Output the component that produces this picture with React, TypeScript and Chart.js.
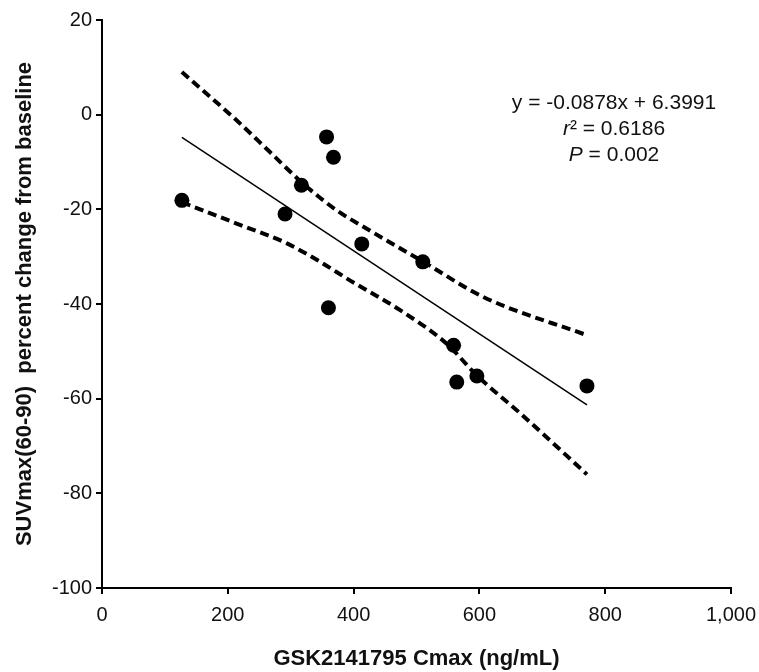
import React, { useEffect, useRef } from "react";
import { Chart, registerables } from "chart.js";

Chart.register(...registerables);

// Observed data points (GSK2141795 Cmax vs SUVmax percent change)
const pointX = [127, 291, 317, 357, 368, 413, 360, 510, 559, 564, 596, 771];
const pointY = [-18.1, -21.0, -14.9, -4.7, -9.0, -27.3, -40.8, -31.1, -48.7, -56.5, -55.2, -57.3];

// Regression line end points
const fitX = [127, 771];
const fitY = [-4.8, -61.3];

// Upper / lower confidence band
const upperX = [127, 214, 267, 320, 373, 421, 511, 606, 771];
const upperY = [9.0, -1.2, -7.9, -14.6, -20.2, -24.1, -31.1, -38.5, -46.6];
const lowerX = [127, 214, 294, 347, 394, 474, 548, 596, 665, 771];
const lowerY = [-18.5, -23.0, -27.2, -31.1, -35.0, -41.3, -48.4, -55.1, -63.1, -76.0];

// Axis ticks
const xTicks = [0, 200, 400, 600, 800, 1000];
const xTickLabels = ["0", "200", "400", "600", "800", "1,000"];
const yTicks = [-100, -80, -60, -40, -20, 0, 20];
const yTickLabels = ["-100", "-80", "-60", "-40", "-20", "0", "20"];

const xTitle = "GSK2141795 Cmax (ng/mL)";
const yTitle = "SUVmax(60-90)  percent change from baseline";

// Equation annotation: segments [text, italic]
const eqLines: [string, boolean][][] = [
  [["y = -0.0878x + 6.3991", false]],
  [["r", true], ["\u00B2 = 0.6186", false]],
  [["P", true], [" = 0.002", false]],
];
const eqAnchorX = 814;
const eqAnchorY = 2.4;

const FONT = "'Liberation Sans', Arial, Helvetica, sans-serif";

const zip = (xs: number[], ys: number[]) => xs.map((x, i) => ({ x, y: ys[i] }));

const eqPlugin = {
  id: "eqPlugin",
  afterDatasetsDraw(chart: any) {
    const { ctx, scales } = chart;
    const cx = scales.x.getPixelForValue(eqAnchorX);
    const cy0 = scales.y.getPixelForValue(eqAnchorY);
    const size = 21;
    const lineGap = 26;
    ctx.save();
    ctx.fillStyle = "#111";
    ctx.textBaseline = "middle";
    ctx.textAlign = "left";
    eqLines.forEach((segs, li) => {
      let total = 0;
      const widths = segs.map(([t, it]) => {
        ctx.font = `${it ? "italic " : ""}${size}px ${FONT}`;
        const w = ctx.measureText(t).width;
        total += w;
        return w;
      });
      let x = cx - total / 2;
      const y = cy0 + li * lineGap;
      segs.forEach(([t, it], si) => {
        ctx.font = `${it ? "italic " : ""}${size}px ${FONT}`;
        ctx.fillText(t, x, y);
        x += widths[si];
      });
    });
    ctx.restore();
  },
};

export default function App() {
  const ref = useRef<HTMLCanvasElement | null>(null);

  useEffect(() => {
    if (!ref.current) return;
    const chart = new Chart(ref.current, {
      type: "scatter",
      data: {
        datasets: [
          {
            label: "upper",
            data: zip(upperX, upperY),
            showLine: true,
            borderColor: "#000",
            borderWidth: 4,
            borderDash: [9, 5],
            pointRadius: 0,
            cubicInterpolationMode: "monotone",
            fill: false,
          },
          {
            label: "lower",
            data: zip(lowerX, lowerY),
            showLine: true,
            borderColor: "#000",
            borderWidth: 4,
            borderDash: [9, 5],
            pointRadius: 0,
            cubicInterpolationMode: "monotone",
            fill: false,
          },
          {
            label: "fit",
            data: zip(fitX, fitY),
            showLine: true,
            borderColor: "#000",
            borderWidth: 1.5,
            pointRadius: 0,
            fill: false,
          },
          {
            label: "points",
            data: zip(pointX, pointY),
            showLine: false,
            pointRadius: 7.5,
            pointBackgroundColor: "#000",
            pointBorderColor: "#000",
            pointBorderWidth: 0,
          },
        ],
      },
      options: {
        animation: false,
        responsive: false,
        events: [],
        layout: { padding: { top: 20, right: 28, left: 0, bottom: 0 } },
        plugins: {
          legend: { display: false },
          tooltip: { enabled: false },
        },
        scales: {
          x: {
            type: "linear",
            min: 0,
            max: 1000,
            afterFit: (s: any) => {
              s.height = 84;
              s.paddingLeft = 0;
              s.paddingRight = 0;
            },
            afterBuildTicks: (s: any) => {
              s.ticks = xTicks.map((v) => ({ value: v }));
            },
            ticks: {
              callback: (_v: any, i: number) => xTickLabels[i],
              color: "#111",
              font: { family: FONT, size: 20 },
              padding: 9,
              maxRotation: 0,
              autoSkip: false,
            },
            grid: {
              display: true,
              drawOnChartArea: false,
              drawTicks: true,
              tickLength: 6,
              color: "#000",
              lineWidth: 2,
            },
            border: { display: true, color: "#000", width: 2 },
            title: {
              display: true,
              text: xTitle,
              color: "#111",
              font: { family: FONT, size: 22, weight: "bold" },
              padding: { top: 0, bottom: 0 },
            },
          },
          y: {
            type: "linear",
            min: -100,
            max: 20,
            afterFit: (s: any) => {
              s.width = 102;
              s.paddingTop = 0;
              s.paddingBottom = 0;
            },
            afterBuildTicks: (s: any) => {
              s.ticks = yTicks.map((v) => ({ value: v }));
            },
            ticks: {
              callback: (_v: any, i: number) => yTickLabels[i],
              color: "#111",
              font: { family: FONT, size: 20 },
              padding: 4,
              autoSkip: false,
            },
            grid: {
              display: true,
              drawOnChartArea: false,
              drawTicks: true,
              tickLength: 6,
              color: "#000",
              lineWidth: 2,
            },
            border: { display: true, color: "#000", width: 2 },
            title: {
              display: true,
              text: yTitle,
              color: "#111",
              font: { family: FONT, size: 22, weight: "bold" },
              padding: { top: 12, bottom: 0 },
            },
          },
        },
      },
      plugins: [eqPlugin],
    } as any);
    return () => chart.destroy();
  }, []);

  return (
    <div style={{ position: "absolute", left: 0, top: 0, width: 759, height: 672, background: "#fff" }}>
      <canvas ref={ref} width={759} height={672} style={{ width: 759, height: 672, display: "block" }} />
    </div>
  );
}
